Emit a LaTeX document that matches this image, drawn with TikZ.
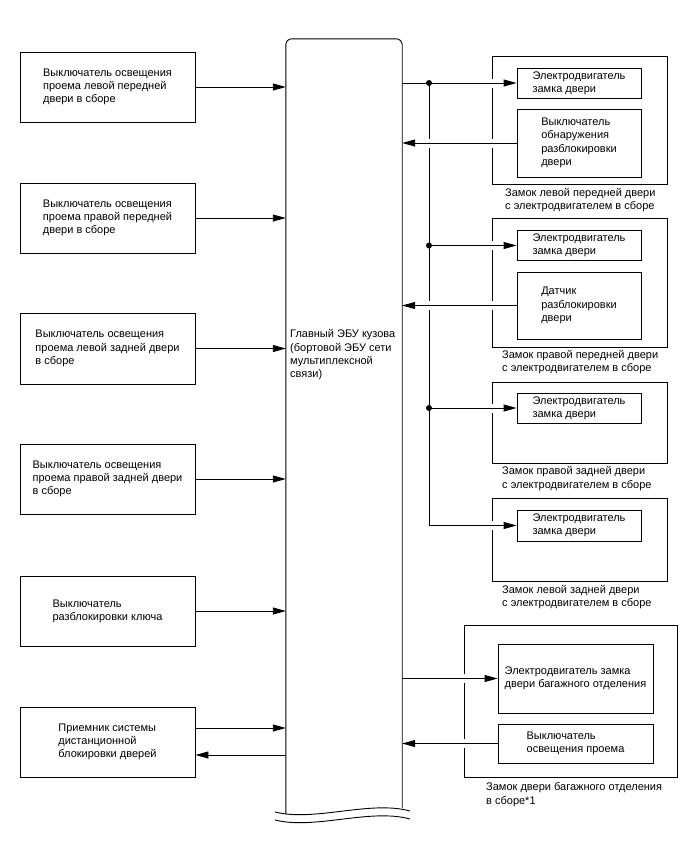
\documentclass[tikz,border=0pt]{standalone}
\usepackage{fontspec}
\setmainfont{Liberation Sans}
\usetikzlibrary{arrows.meta, positioning}

\begin{document}
\begin{tikzpicture}[x=1pt, y=-1pt,
  box/.style={draw=black, line width=0.9pt, align=left, inner sep=0pt,
              font=\fontsize{11}{13.3}\selectfont},
  grp/.style={draw=black, line width=0.9pt, inner sep=0pt},
  lbl/.style={align=left, inner sep=0pt, anchor=west,
              font=\fontsize{11}{13.3}\selectfont},
  wire/.style={line width=0.9pt},
  arr/.style={-{Triangle[length=13pt, width=7pt]}, line width=0.9pt},
  gap/.style={draw=white, line width=4pt}
]
  \useasboundingbox (0,0) rectangle (688,852);

  % ========== LEFT: switches ==========
  \node[box, minimum width=175pt, minimum height=70pt] (sw1) at (107.5,87)
    {Выключатель освещения\\проема левой передней\\двери в сборе};
  \node[box, minimum width=175pt, minimum height=70pt] (sw2) at (107.5,218)
    {Выключатель освещения\\проема правой передней\\двери в сборе};
  \node[box, minimum width=175pt, minimum height=71pt] (sw3) at (107.5,348.5)
    {Выключатель освещения\\проема левой задней двери\\в сборе};
  \node[box, minimum width=175pt, minimum height=70pt] (sw4) at (107.5,479)
    {Выключатель освещения\\проема правой задней двери\\в сборе};
  \node[box, minimum width=175pt, minimum height=70pt] (sw5) at (107.5,611)
    {Выключатель\\разблокировки ключа};
  \node[box, minimum width=175pt, minimum height=70pt] (sw6) at (107.5,742)
    {Приемник системы\\дистанционной\\блокировки дверей};

  % ========== MIDDLE: main body ECU ==========
  \node[inner sep=0pt, minimum width=116pt, minimum height=769pt] (ecu) at (344,423.5) {};
  \node[lbl] (ecutxt) at (290,355)
    {Главный ЭБУ кузова\\(бортовой ЭБУ сети\\мультиплексной\\связи)};
  \draw[wire, rounded corners=6pt] ([yshift=-6pt]ecu.south west) -- (ecu.north west)
    -- (ecu.north east) -- (ecu.south east);
  \draw[wire] (275,812) .. controls (315,822) and (370,800) .. (410,811);
  \draw[wire] (275,820) .. controls (315,830) and (370,808) .. (410,819);

  % ========== RIGHT: door lock assemblies ==========
  \node[grp, minimum width=175pt, minimum height=128pt] (g1) at (579.5,120) {};
  \node[box, minimum width=124pt, minimum height=30pt] (g1m) at (579,83)
    {Электродвигатель\\замка двери};
  \node[box, minimum width=124pt, minimum height=68pt] (g1s) at (579,143)
    {Выключатель\\обнаружения\\разблокировки\\двери};
  \node[lbl] (g1l) at (505,200)
    {Замок левой передней двери\\с электродвигателем в сборе};

  \node[grp, minimum width=175pt, minimum height=129pt] (g2) at (579.5,282.5) {};
  \node[box, minimum width=124pt, minimum height=30pt] (g2m) at (579,245.5)
    {Электродвигатель\\замка двери};
  \node[box, minimum width=124pt, minimum height=67pt] (g2s) at (579,305.5)
    {Датчик\\разблокировки\\двери};
  \node[lbl] (g2l) at (502,362)
    {Замок правой передней двери\\с электродвигателем в сборе};

  \node[grp, minimum width=175pt, minimum height=81pt] (g3) at (579.5,422.5) {};
  \node[box, minimum width=124pt, minimum height=30pt] (g3m) at (579,408)
    {Электродвигатель\\замка двери};
  \node[lbl] (g3l) at (502,478.5)
    {Замок правой задней двери\\с электродвигателем в сборе};

  \node[grp, minimum width=175pt, minimum height=83pt] (g4) at (579.5,539.5) {};
  \node[box, minimum width=124pt, minimum height=31pt] (g4m) at (579,525.5)
    {Электродвигатель\\замка двери};
  \node[lbl] (g4l) at (502,597)
    {Замок левой задней двери\\с электродвигателем в сборе};

  \node[grp, minimum width=213pt, minimum height=152pt] (g5) at (570.5,701) {};
  \node[box, minimum width=155pt, minimum height=69pt] (g5m) at (575.5,678.5)
    {Электродвигатель замка\\двери багажного отделения};
  \node[box, minimum width=155pt, minimum height=39pt] (g5s) at (575.5,743.5)
    {Выключатель\\освещения проема};
  \node[lbl] (g5l) at (486,794.5)
    {Замок двери багажного отделения\\в сборе*1};

  % ======== BUS to the door motors ========
  \coordinate (busx) at (429,0);
  \coordinate (j1) at (g1m.west -| busx);
  \coordinate (j2) at (g2m.west -| busx);
  \coordinate (j3) at (g3m.west -| busx);
  \coordinate (j4) at (g4m.west -| busx);
  \draw[wire] (j1) -- (j4);

  % gaps where a line crosses
  \foreach \a/\b in {g1m/g1.west, g1s/g1.west, g1s/busx, g2m/g2.west,
                     g2s/g2.west, g2s/busx, g3m/g3.west, g4m/g4.west,
                     g5m/g5.west, g5s/g5.west}
    \draw[gap] (\a.west -| \b) ++(0,-4.5) -- ++(0,9);

  % ======== ARROWS: switches -> ECU ========
  \foreach \n in {1,...,5}
    \draw[arr] (sw\n.east) -- (sw\n.east -| ecu.west);
  \coordinate (rin) at ([yshift=14pt]sw6.east);
  \coordinate (rout) at ([yshift=-13pt]sw6.east);
  \draw[arr] (rin) -- (rin -| ecu.west);
  \draw[arr] (rout -| ecu.west) -- (rout);

  % ======== ARROWS: ECU <-> doors ========
  \draw[arr] (ecu.east |- g1m.west) -- (g1m.west);
  \draw[arr] (j2) -- (g2m.west);
  \draw[arr] (j3) -- (g3m.west);
  \draw[arr] (j4) -- (g4m.west);
  \draw[arr] (g1s.west) -- (g1s.west -| ecu.east);
  \draw[arr] (g2s.west) -- (g2s.west -| ecu.east);
  \draw[arr] (ecu.east |- g5m.west) -- (g5m.west);
  \draw[arr] (g5s.west) -- (g5s.west -| ecu.east);
  \foreach \j in {j1,j2,j3}
    \fill (\j) circle (3pt);

\end{tikzpicture}
\end{document}
